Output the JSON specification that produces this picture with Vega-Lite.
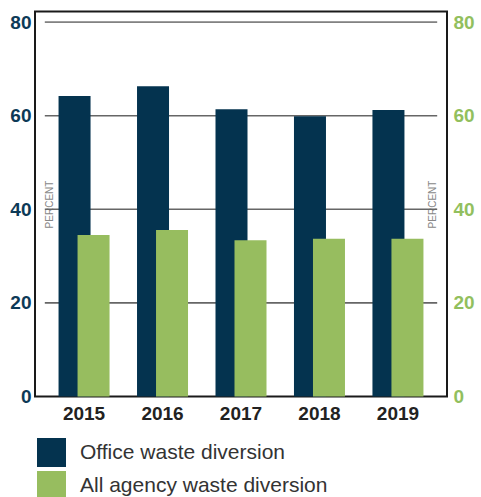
{
  "$schema": "https://vega.github.io/schema/vega-lite/v6.json",
  "autosize": {"type": "none"},
  "padding": {"left": 35, "top": 11.5, "right": 34, "bottom": 100.5},
  "width": 412,
  "height": 385,
  "config": {
    "font": "Liberation Sans",
    "view": {"stroke": "#1a1a1a", "strokeWidth": 2}
  },
  "datasets": {
    "waste": [
      {"year": "2015", "series": "Office waste diversion", "percent": 64.2},
      {"year": "2016", "series": "Office waste diversion", "percent": 66.3},
      {"year": "2017", "series": "Office waste diversion", "percent": 61.4},
      {"year": "2018", "series": "Office waste diversion", "percent": 59.9},
      {"year": "2019", "series": "Office waste diversion", "percent": 61.2},
      {"year": "2015", "series": "All agency waste diversion", "percent": 34.5},
      {"year": "2016", "series": "All agency waste diversion", "percent": 35.6},
      {"year": "2017", "series": "All agency waste diversion", "percent": 33.4},
      {"year": "2018", "series": "All agency waste diversion", "percent": 33.7},
      {"year": "2019", "series": "All agency waste diversion", "percent": 33.7}
    ],
    "grid": [{"g": 20}, {"g": 40}, {"g": 60}, {"g": 80}]
  },
  "resolve": {"scale": {"y": "independent"}},
  "layer": [
    {
      "data": {"name": "grid"},
      "mark": {"type": "rule"},
      "encoding": {
        "y": {"field": "g", "type": "quantitative", "scale": {"domain": [0, 82.26], "nice": false}, "axis": null},
        "x": {"datum": "2015", "type": "ordinal", "bandPosition": 0},
        "x2": {"datum": "2019", "bandPosition": 1},
        "color": {"condition": {"test": "datum.g === 80", "value": "#222222"}, "value": "#666666"},
        "strokeWidth": {"condition": {"test": "datum.g === 80", "value": 1}, "value": 1.6}
      }
    },
    {
      "data": {"name": "waste"},
      "transform": [{"filter": "datum.series === 'Office waste diversion'"}],
      "mark": {"type": "bar", "width": 32, "xOffset": -9.5},
      "encoding": {
        "x": {
          "field": "year", "type": "ordinal",
          "scale": {"paddingInner": 0, "paddingOuter": 0.125},
          "axis": {"title": null, "labelAngle": 0, "labelFontSize": 19, "labelFontWeight": "bold", "labelColor": "#222222", "ticks": false, "domain": false, "labelPadding": 17, "bandPosition": 0.5, "labelAlign": "center"}
        },
        "y": {
          "field": "percent", "type": "quantitative",
          "scale": {"domain": [0, 82.26], "nice": false},
          "axis": {"values": [0, 20, 40, 60, 80], "grid": false, "ticks": false, "domain": false, "labelFontSize": 19, "labelFontWeight": "bold", "labelColor": "#0d3a57", "labelPadding": 4,
            "title": "PERCENT", "titleFontSize": 10, "titleFontWeight": "normal", "titleColor": "#888888", "titleAngle": 270, "titleX": 14, "titleY": 192.5, "titleBaseline": "middle", "titleAlign": "center", "titleLetterSpacing": 1}
        },
        "color": {
          "field": "series", "type": "nominal",
          "scale": {"domain": ["Office waste diversion", "All agency waste diversion"], "range": ["#04334f", "#97bd5f"]},
          "legend": {"orient": "none", "legendX": 2, "legendY": 426.5, "title": null, "symbolType": "square", "symbolSize": 841, "symbolStrokeWidth": 0, "symbolOpacity": 1, "labelFontSize": 21, "labelColor": "#333333", "labelOffset": 14, "labelLimit": 0, "rowPadding": 4, "padding": 0, "direction": "vertical"}
        }
      }
    },
    {
      "data": {"name": "waste"},
      "transform": [{"filter": "datum.series === 'All agency waste diversion'"}],
      "mark": {"type": "bar", "width": 32, "xOffset": 9.5},
      "encoding": {
        "x": {"field": "year", "type": "ordinal"},
        "y": {
          "field": "percent", "type": "quantitative",
          "scale": {"domain": [0, 82.26], "nice": false},
          "axis": {"orient": "right", "values": [0, 20, 40, 60, 80], "grid": false, "ticks": false, "domain": false, "labelFontSize": 19, "labelFontWeight": "bold", "labelColor": "#92bf5e", "labelPadding": 6,
            "title": "PERCENT", "titleFontSize": 10, "titleFontWeight": "normal", "titleColor": "#888888", "titleAngle": 270, "titleX": -14.5, "titleY": 192.5, "titleBaseline": "middle", "titleAlign": "center", "titleLetterSpacing": 1}
        },
        "color": {"field": "series", "type": "nominal"}
      }
    }
  ]
}
